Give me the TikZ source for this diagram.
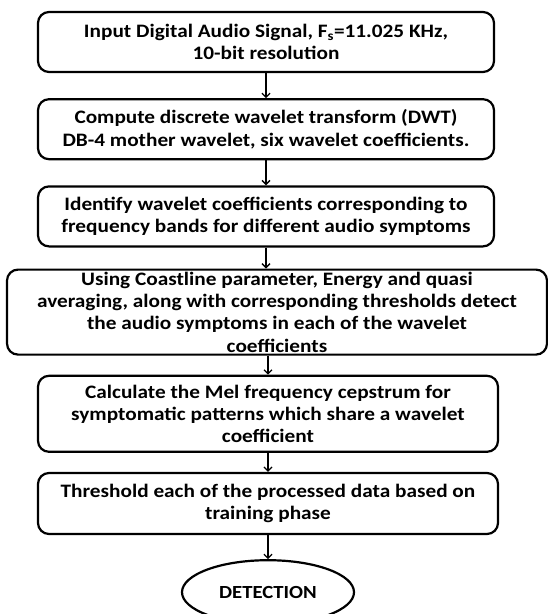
\documentclass[tikz,border=0pt]{standalone}
\usepackage{fontspec}
\setmainfont{Carlito}[FakeStretch=1.12]
\usetikzlibrary{positioning,shapes.geometric,arrows.meta}

\tikzset{
  stepbox/.style={draw, line width=2.2pt, rounded corners=11pt, align=center,
    minimum width=456pt, minimum height=60pt, inner sep=1pt,
    font=\bfseries\fontsize{19}{22.3}\selectfont},
  endnode/.style={draw, ellipse, line width=2.2pt, minimum width=172pt,
    minimum height=64pt, font=\bfseries\fontsize{18.5}{20}\selectfont},
  flow/.style={-{Straight Barb[length=4pt,width=8pt]}, line width=1.3pt}
}

\begin{document}
\begin{tikzpicture}
  \useasboundingbox (0,0) rectangle (548pt,-614pt);
  \node (1) [stepbox] at (266pt,-42pt) {Input Digital Audio Signal, F\textsubscript{s}=11.025 KHz,\\ 10-bit resolution};
  \node (2) [stepbox, below = 25pt of 1] {Compute discrete wavelet transform (DWT)\\ DB-4 mother wavelet, six wavelet coefficients.};
  \node (3) [stepbox, below = 25pt of 2] {Identify wavelet coefficients corresponding to\\ frequency bands for different audio symptoms};
  \node (4) [stepbox, below = 21pt of 3, xshift=11pt, minimum width=540pt,
    minimum height=85pt, inner ysep=-2pt] {Using Coastline parameter, Energy and quasi\\ averaging, along with corresponding thresholds detect\\ the audio symptoms in each of the wavelet\\ coefficients};
  \node (5) [stepbox, below = 19pt of 4, xshift=-9pt, minimum width=460pt,
    minimum height=76pt] {Calculate the Mel frequency cepstrum for\\ symptomatic patterns which share a wavelet\\ coefficient};
  \node (6) [stepbox, below = 19pt of 5, minimum width=460pt,
    minimum height=61pt] {Threshold each of the processed data based on\\ training phase};
  \node (7) [endnode, below = 24pt of 6] {DETECTION};

  \path[flow]
  (1) edge (2)
  (2) edge (3)
  (3) edge (3 |- 4.north)
  (4.south -| 5) edge (5)
  (5) edge (6)
  (6) edge (7);
\end{tikzpicture}
\end{document}
